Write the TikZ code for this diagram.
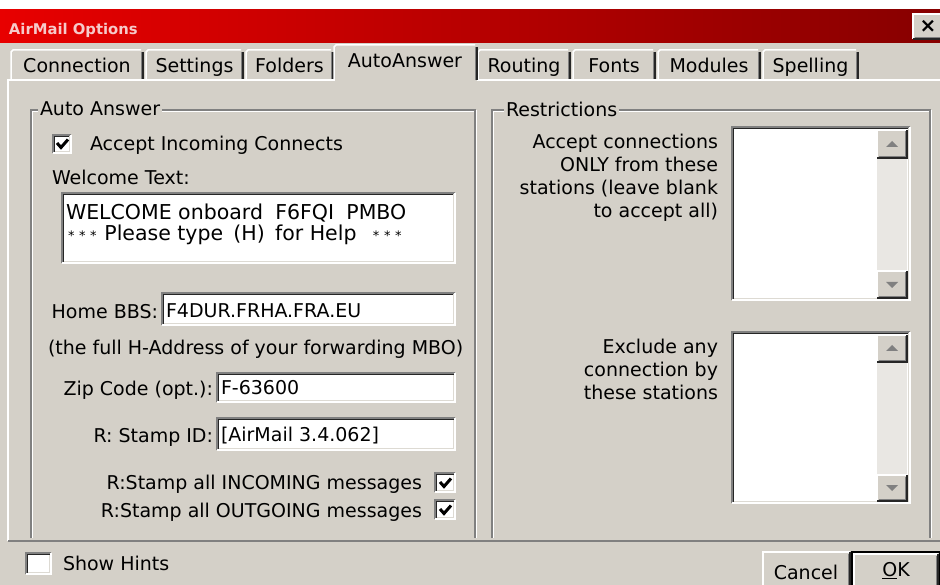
\documentclass[tikz,border=0pt]{standalone}
\usepackage{fontspec}
\setmainfont{DejaVu Sans}
\definecolor{bg}{HTML}{D4D0C8}
\definecolor{dk}{HTML}{808080}
\definecolor{trk}{HTML}{E9E7E3}
\definecolor{tl}{RGB}{232,0,0}
\definecolor{tr}{RGB}{135,0,0}
\definecolor{ttext}{HTML}{F6CACA}
\newcommand{\uif}{\fontsize{19}{23}\selectfont}
\newcommand{\SunkBox}[4]{%
  \fill[white] (#1,#2) rectangle (#3,#4);
  \draw[dk,line width=1.6pt] (#1,#4) -- (#1,#2) -- (#3,#2);
  \draw[black!85,line width=1.2pt] (#1+1.6,#4-1) -- (#1+1.6,#2+1.6) -- (#3-1,#2+1.6);
  \draw[white,line width=1.4pt] (#1,#4) -- (#3,#4) -- (#3,#2);
  \draw[bg!80!white,line width=1pt] (#1+1.5,#4-1.5) -- (#3-1.5,#4-1.5) -- (#3-1.5,#2+1.5);
}
\newcommand{\RaisBox}[4]{%
  \fill[bg] (#1,#2) rectangle (#3,#4);
  \draw[white,line width=1.4pt] (#1,#4) -- (#1,#2) -- (#3,#2);
  \draw[black!85,line width=1.4pt] (#1,#4) -- (#3,#4) -- (#3,#2);
  \draw[dk,line width=1.2pt] (#1+1.5,#4-1.5) -- (#3-1.5,#4-1.5) -- (#3-1.5,#2+1.5);
}
\newcommand{\TickMark}[2]{%
  \draw[black,line width=3pt,line join=miter] (#1+4,#2+8) -- (#1+8,#2+12.5) -- (#1+15,#2+4.5);
}
\newcommand{\TabBox}[4]{%
  \fill[bg] (#1,50) rectangle (#2,80);
  \draw[white,line width=1.5pt] (#1,80) -- (#1,52) -- (#1+2,50) -- (#2-2,50);
  \draw[dk,line width=1.2pt] (#2-1.5,52) -- (#2-1.5,80);
  \draw[black!85,line width=1.3pt] (#2,52) -- (#2,80);
  \node[anchor=mid] (#4) at ({(#1+#2)/2},69.5) {#3};
}
\newcommand{\Stars}{\fontsize{13}{14}\selectfont*\hspace{0.35em}*\hspace{0.35em}*}
\begin{document}
\begin{tikzpicture}[x=1pt,y=-1pt,
  every node/.style={inner sep=0pt,outer sep=0pt,font=\uif,text=black},
  grp/.style={fill=bg,inner xsep=2pt,anchor=mid west},
  etch/.style={draw=dk,line width=1.3pt},
  etchw/.style={draw=white,line width=1.3pt}]
\useasboundingbox (0,0) rectangle (940,585);
% backgrounds
\fill[white] (0,0) rectangle (940,10);
\fill[bg] (0,43) rectangle (940,585);
\shade[left color=tl,right color=tr] (0,10) rectangle (940,43);
\node[anchor=mid west,font=\bfseries\fontsize{14.8}{16}\selectfont,text=ttext] (title) at (9,32) {AirMail Options};
% close button
\RaisBox{913}{14}{942}{39}
\node[font=\bfseries\fontsize{20}{22}\selectfont] (close) at (928,26.5) {×};
% tabs
\TabBox{11}{143}{Connection}{tconn}
\TabBox{146}{243}{Settings}{tset}
\TabBox{246}{333}{Folders}{tfold}
\TabBox{478}{570}{Routing}{trout}
\TabBox{573}{655}{Fonts}{tfont}
\TabBox{658}{760}{Modules}{tmod}
\TabBox{763}{858}{Spelling}{tspel}
% panel
\draw[white,line width=1.5pt] (8,541) -- (8,80) -- (334,80);
\draw[white,line width=1.5pt] (477,80) -- (940,80);
\draw[dk,line width=2pt] (8,541) -- (940,541);
% selected tab
\fill[bg] (334,45) rectangle (477,82);
\draw[white,line width=1.5pt] (334,81) -- (334,47) -- (336,45) -- (475,45);
\draw[dk,line width=1.2pt] (475.5,47) -- (475.5,80);
\draw[black!85,line width=1.3pt] (477,47) -- (477,80);
\node[anchor=mid] (tauto) at (405,65) {AutoAnswer};
% group Auto Answer
\draw[etch] (31,538) -- (31,110) -- (475,110) -- (475,538);
\draw[etchw] (32.5,538) -- (32.5,111.5) -- (473.5,111.5);
\draw[etchw] (476.5,110) -- (476.5,538);
\node[grp] (gauto) at (38,113) {Auto Answer};
% group Restrictions
\draw[etch] (492,538) -- (492,110) -- (930,110) -- (930,538);
\draw[etchw] (493.5,538) -- (493.5,111.5) -- (928.5,111.5);
\draw[etchw] (931.5,110) -- (931.5,538);
\node[grp] (grest) at (504,114) {Restrictions};
% Accept incoming
\SunkBox{53}{135}{71}{153}
\TickMark{53}{135}
\node[anchor=mid west] (acc) at (90,148) {Accept Incoming Connects};
\node[anchor=mid west] (wlab) at (52,182) {Welcome Text:};
\SunkBox{62}{193}{455}{263}
\node[anchor=mid west,font=\fontsize{20.5}{23}\selectfont] (w1) at (66,217) {WELCOME onboard\hspace{0.6em}F6FQI\hspace{0.6em}PMBO};
\node[anchor=mid west,font=\fontsize{20.5}{23}\selectfont] (w2) at (68,238) {\Stars\hspace{0.6em}\fontsize{20.5}{23}\selectfont Please type\hspace{0.5em}(H)\hspace{0.5em}for Help\hspace{0.8em}\Stars};
% Home BBS
\node[anchor=mid east] (hlab) at (158,316) {Home BBS:};
\SunkBox{162}{293}{455}{325}
\node[anchor=mid west] (hval) at (166,315) {F4DUR.FRHA.FRA.EU};
\node[anchor=mid west] (hnote) at (48,352) {(the full H-Address of your forwarding MBO)};
% Zip
\node[anchor=mid east] (zlab) at (213,393) {Zip Code (opt.):};
\SunkBox{217}{373}{455}{402}
\node[anchor=mid west] (zval) at (221,392) {F-63600};
% Stamp
\node[anchor=mid east] (slab) at (213,440) {R: Stamp ID:};
\SunkBox{217}{418}{455}{450}
\node[anchor=mid west] (sval) at (221,439) {[AirMail 3.4.062]};
% incoming/outgoing
\node[anchor=mid east] (inc) at (422,487) {R:Stamp all INCOMING messages};
\SunkBox{435}{473}{455}{492}
\TickMark{436}{474}
\node[anchor=mid east] (outg) at (422,515) {R:Stamp all OUTGOING messages};
\SunkBox{435}{500}{455}{519}
\TickMark{436}{501}
% restrictions text
\node[anchor=north east,align=right] (r1) at (718,134) {Accept connections\\ONLY from these\\stations (leave blank\\to accept all)};
\node[anchor=north east,align=right] (r2) at (718,339) {Exclude any\\connection by\\these stations};
% list 1
\SunkBox{732}{127}{910}{300}
\fill[trk] (877,158) rectangle (907,272);
\RaisBox{877}{130}{907}{158}
\RaisBox{877}{271}{907}{298}
\fill[dk] (886,147) -- (898,147) -- (892,141) -- cycle;
\fill[dk] (886,282) -- (898,282) -- (892,288) -- cycle;
% list 2
\SunkBox{732}{332}{910}{503}
\fill[trk] (877,362) rectangle (907,476);
\RaisBox{877}{335}{907}{362}
\RaisBox{877}{475}{907}{501}
\fill[dk] (886,351) -- (898,351) -- (892,345) -- cycle;
\fill[dk] (886,485) -- (898,485) -- (892,491) -- cycle;
% show hints
\SunkBox{26}{553}{51}{574}
\node[anchor=mid west] (hints) at (63,568) {Show Hints};
% buttons
\RaisBox{763}{552}{850}{592}
\node (cancel) at (806,572) {Cancel};
\RaisBox{854}{554}{938}{592}
\draw[black,line width=2pt] (852,592) -- (852,552) -- (940,552) -- (940,592);
\node (ok) at (896,571) {\underline{O}K};
\end{tikzpicture}
\end{document}
